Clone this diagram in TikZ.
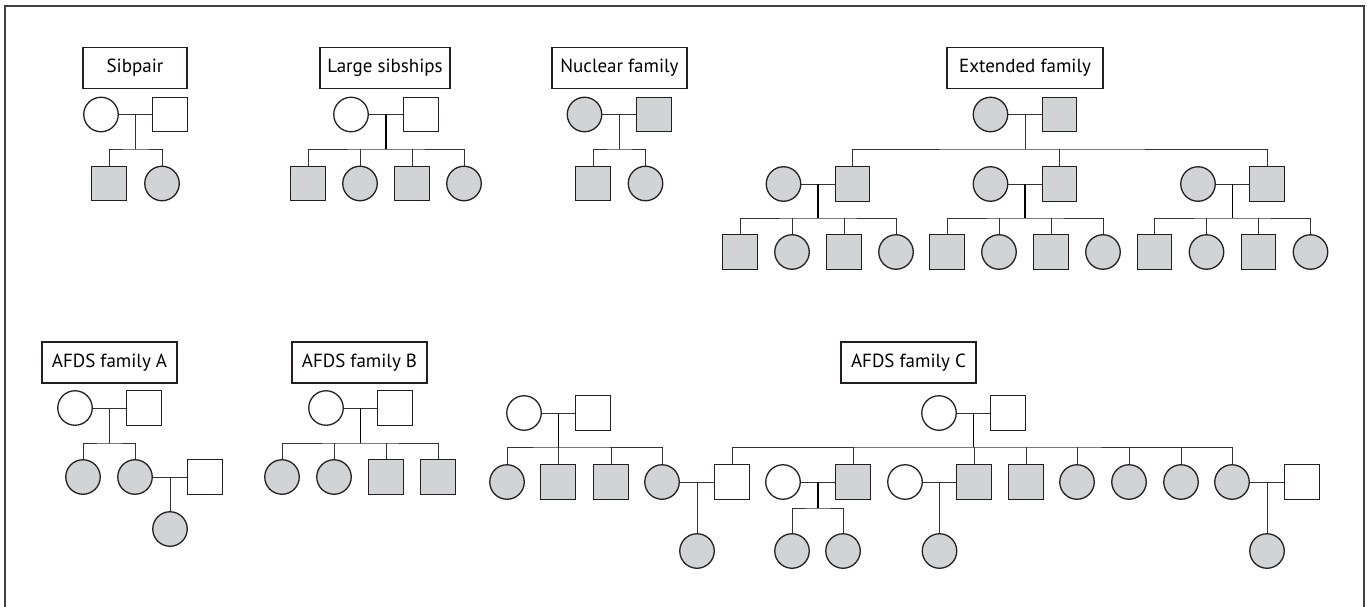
\documentclass[tikz,border=0pt]{standalone}
\usepackage{fontspec}
\setmainfont{PT Sans}
\usetikzlibrary{calc}
\definecolor{affgray}{HTML}{D1D3D4}
\definecolor{pen}{HTML}{231F20}
\tikzset{
  female/.style={draw=pen, circle, line width=1.3pt, minimum size=34.5pt, inner sep=0pt},
  male/.style={draw=pen, rectangle, line width=1.3pt, minimum size=34.5pt, inner sep=0pt},
  aff/.style={fill=affgray},
  famtitle/.style={draw=pen, line width=1.1pt, minimum height=41pt, inner sep=0pt, font=\fontsize{19}{21}\selectfont},
  link/.style={draw=black!80, line width=1pt}
}

\begin{document}
\begin{tikzpicture}[x=1pt, y=-1pt]
\useasboundingbox (0,0) rectangle (1367,607);
\draw[black!75, line width=1.5pt] (5,607) -- (5,6) -- (1364,6) -- (1364,607);

% sibpair
\node[famtitle, minimum width=104pt] (tSib) at (135,68) {Sibpair};
\node[female] (sF) at (101,114.5) {};
\node[male] (sM) at (170,114.5) {};
\node[male, aff] (sK1) at (109,183.5) {};
\node[female, aff] (sK2) at (162,183.5) {};
\coordinate (sU) at ($(sF)!0.5!(sM)$);
\coordinate (sS) at ($(sU)+(0,34.5)$);
\draw[link] (sF) -- (sM);
\draw[link] (sU) -- (sS);
\draw[link] (sK1.north) |- (sS) -| (sK2.north);

% large sibships
\node[famtitle, minimum width=130pt] (tLarge) at (385,68) {Large sibships};
\node[female] (lF) at (351,114.5) {};
\node[male] (lM) at (421,114.5) {};
\foreach \i/\x/\s in {1/308/male,2/360/female,3/412/male,4/464/female}
  \node[\s, aff] (lK\i) at (\x,183.5) {};
\coordinate (lU) at ($(lF)!0.5!(lM)$);
\coordinate (lS) at ($(lU)+(0,34.5)$);
\draw[link] (lF) -- (lM);
\draw[link, line width=1.4pt, black] (lU) -- (lS);
\draw[link] (lK1.north) |- (lS) -| (lK4.north);
\foreach \i in {2,3}
  \draw[link] (lK\i.north) -- (lK\i.north |- lS);

% nuclear family
\node[famtitle, minimum width=135pt] (tNuc) at (619.5,68) {Nuclear family};
\node[female, aff] (nF) at (584.5,114.5) {};
\node[male, aff] (nM) at (654,114.5) {};
\node[male, aff] (nK1) at (593,183.5) {};
\node[female, aff] (nK2) at (645.5,183.5) {};
\coordinate (nU) at ($(nF)!0.5!(nM)$);
\coordinate (nS) at ($(nU)+(0,34.5)$);
\draw[link] (nF) -- (nM);
\draw[link] (nU) -- (nS);
\draw[link] (nK1.north) |- (nS) -| (nK2.north);

% extended family
\node[famtitle, minimum width=156pt] (tExt) at (1025,68) {Extended family};
\node[female, aff] (eF) at (990.5,114.5) {};
\node[male, aff] (eM) at (1059.5,114.5) {};
\coordinate (eU) at ($(eF)!0.5!(eM)$);
\coordinate (eS) at ($(eU)+(0,34.5)$);
\draw[link] (eF) -- (eM);
\draw[link] (eU) -- (eS);
\foreach \j/\xf/\xm in {1/783.5/852.5, 2/990.5/1059.5, 3/1198/1267} {
  \node[female, aff] (e\j F) at (\xf,184) {};
  \node[male, aff] (e\j M) at (\xm,184) {};
  \coordinate (e\j U) at ($(e\j F)!0.5!(e\j M)$);
  \coordinate (e\j S) at ($(e\j U)+(0,34)$);
  \draw[link] (e\j F) -- (e\j M);
  \draw[link, line width=1.4pt, black] (e\j U) -- (e\j S);
  \foreach \i/\dx/\s in {1/-78/male,2/-26/female,3/26/male,4/78/female}
    \node[\s, aff] (e\j K\i) at ($(e\j U)+(\dx,68)$) {};
  \draw[link] (e\j K1.north) |- (e\j S) -| (e\j K4.north);
  \foreach \i in {2,3}
    \draw[link] (e\j K\i.north) -- (e\j K\i.north |- e\j S);
}
\draw[link] (e1M.north) |- (eS) -| (e3M.north);
\draw[link] (e2M.north) -- (eS -| e2M.north);

% AFDS family A
\node[famtitle, minimum width=135pt] (tA) at (109.5,362.5) {AFDS family A};
\node[female] (aF) at (75,408) {};
\node[male] (aM) at (144,408) {};
\node[female, aff] (aK1) at (83,477) {};
\node[female, aff] (aK2) at (135,477) {};
\node[male] (aP) at (205,477) {};
\node[female, aff] (aG) at (170,529) {};
\coordinate (aU) at ($(aF)!0.5!(aM)$);
\coordinate (aS) at ($(aU)+(0,35)$);
\coordinate (aV) at ($(aK2)!0.5!(aP)$);
\draw[link] (aF) -- (aM);
\draw[link] (aU) -- (aS);
\draw[link] (aK1.north) |- (aS) -| (aK2.north);
\draw[link] (aK2) -- (aP);
\draw[link] (aV) -- (aG);

% AFDS family B
\node[famtitle, minimum width=135pt] (tB) at (359.5,362.5) {AFDS family B};
\node[female] (bF) at (326,408) {};
\node[male] (bM) at (395,408) {};
\foreach \i/\x/\s in {1/282/female,2/334/female,3/386/male,4/438/male}
  \node[\s, aff] (bK\i) at (\x,477) {};
\coordinate (bU) at ($(bF)!0.5!(bM)$);
\coordinate (bS) at ($(bU)+(0,35)$);
\draw[link] (bF) -- (bM);
\draw[link, line width=1.4pt, black] (bU) -- (bS);
\draw[link] (bK1.north) |- (bS) -| (bK4.north);
\foreach \i in {2,3}
  \draw[link] (bK\i.north) -- (bK\i.north |- bS);

% AFDS family C
\node[famtitle, minimum width=135pt] (tC) at (908.5,362.5) {AFDS family C};
% left branch
\node[female] (cF1) at (524,413) {};
\node[male] (cM1) at (593,413) {};
\foreach \i/\x/\s in {1/507/female,2/558/male,3/611/male,4/662/female}
  \node[\s, aff] (cK\i) at (\x,482) {};
\coordinate (cU1) at ($(cF1)!0.5!(cM1)$);
\coordinate (cS1) at ($(cU1)+(0,34)$);
\draw[link] (cF1) -- (cM1);
\draw[link, line width=1.4pt, black] (cU1) -- (cS1);
\draw[link] (cK1.north) |- (cS1) -| (cK4.north);
\foreach \i in {2,3}
  \draw[link] (cK\i.north) -- (cK\i.north |- cS1);
% right branch
\node[female] (cF2) at (939,413) {};
\node[male] (cM2) at (1008,413) {};
\node[male] (cR1) at (732,482) {};
\foreach \i/\x/\s in {2/853/male,3/974/male,4/1026/male,5/1077/female,6/1129/female,7/1181/female,8/1232/female}
  \node[\s, aff] (cR\i) at (\x,482) {};
\coordinate (cU2) at ($(cF2)!0.5!(cM2)$);
\coordinate (cS2) at ($(cU2)+(0,34)$);
\draw[link] (cF2) -- (cM2);
\draw[link, line width=1.4pt, black] (cU2) -- (cS2);
\draw[link] (cR1.north) |- (cS2) -| (cR8.north);
\foreach \i in {2,...,7}
  \draw[link] (cR\i.north) -- (cR\i.north |- cS2);
% spouses and grandchildren
\node[female] (cW2) at (783,482) {};
\node[female] (cW3) at (905,482) {};
\node[male] (cW4) at (1302,482) {};
\node[female, aff] (cG1) at (697,551) {};
\node[female, aff] (cG2) at (792,551) {};
\node[female, aff] (cG3) at (843,551) {};
\node[female, aff] (cG4) at (939.5,551) {};
\node[female, aff] (cG5) at (1267,551) {};
\coordinate (cV1) at ($(cK4)!0.5!(cR1)$);
\coordinate (cV2) at ($(cW2)!0.5!(cR2)$);
\coordinate (cT2) at ($(cV2)+(0,26)$);
\coordinate (cV3) at ($(cW3)!0.5!(cR3)$);
\coordinate (cV4) at ($(cR8)!0.5!(cW4)$);
\draw[link] (cK4) -- (cR1);
\draw[link] (cW2) -- (cR2);
\draw[link] (cW3) -- (cR3);
\draw[link] (cR8) -- (cW4);
\draw[link] (cV1) -- (cG1);
\draw[link, line width=1.4pt, black] (cV2) -- (cT2);
\draw[link] (cG2.north) |- (cT2) -| (cG3.north);
\draw[link] (cV3) -- (cG4);
\draw[link] (cV4) -- (cG5);
\end{tikzpicture}
\end{document}
